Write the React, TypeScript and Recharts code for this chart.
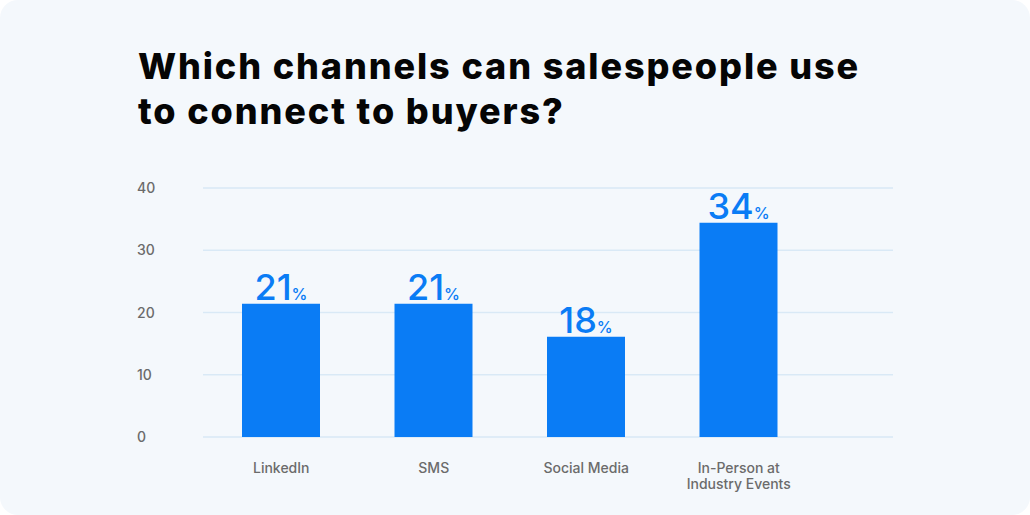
import React from "react";
import { BarChart, Bar, XAxis, YAxis, CartesianGrid, LabelList, Text } from "recharts";

const categories = ["LinkedIn", "SMS", "Social Media", "In-Person at Industry Events"];
const barValues = [21.4, 21.4, 16.1, 34.4];
const labelValues = ["21", "21", "18", "34"];
const yTicks = [0, 10, 20, 30, 40];
const title = ["Which channels can salespeople use", "to connect to buyers?"];

const data = categories.map((name, i) => ({ name, value: barValues[i], label: labelValues[i] }));

const BLUE = "#0a7cf5";
const GRAY = "#6b6b6b";

const YTick = (p: any) => (
  <text x={137} y={p.y} dy={5} textAnchor="start" fill={GRAY} fontSize={14} fontWeight={500} fontFamily="Inter, 'Open Sans', sans-serif">
    {p.payload.value}
  </text>
);

const XTick = (p: any) => (
  <Text x={p.x} y={p.y} width={125} textAnchor="middle" verticalAnchor="start" fill={GRAY} fontSize={14} fontWeight={500} fontFamily="Inter, 'Open Sans', sans-serif" lineHeight={16}>
    {p.payload.value}
  </Text>
);

const BarLabel = (p: any) => {
  const { x, y, width, index } = p;
  return (
    <text x={x + width / 2} y={y - 4} textAnchor="middle" fill={BLUE} fontFamily="Inter, 'Open Sans', sans-serif">
      <tspan fontSize={36} fontWeight={500}>{labelValues[index]}</tspan>
      <tspan fontSize={16} fontWeight={500}>%</tspan>
    </text>
  );
};

export default function App() {
  return (
    <div style={{ position: "absolute", left: 0, top: 0, width: 1030, height: 515, background: "#ffffff" }}>
      <div style={{ position: "absolute", left: 0, top: 0, width: 1030, height: 515, background: "#f4f8fc", borderRadius: 18 }} />
      <div
        style={{
          position: "absolute",
          left: 138,
          top: 44,
          fontFamily: "Inter, 'Open Sans', sans-serif",
          fontWeight: 800,
          fontSize: 36,
          lineHeight: "45px",
          color: "#050505",
          letterSpacing: 1.9,
        }}
      >
        {title.map((t, i) => (
          <div key={i} style={{ whiteSpace: "nowrap" }}>{t}</div>
        ))}
      </div>
      <div style={{ position: "absolute", left: 0, top: 0 }}>
        <BarChart width={1030} height={515} data={data} margin={{ top: 188, right: 137, bottom: 0, left: 137 }}>
          <CartesianGrid vertical={false} stroke="#d9e9f6" strokeWidth={1.5} />
          <XAxis dataKey="name" axisLine={false} tickLine={false} interval={0} tick={<XTick />} padding={{ left: 2, right: 78 }} tickMargin={20} height={78} />
          <YAxis domain={[0, 40]} ticks={yTicks} axisLine={false} tickLine={false} width={66} tick={<YTick />} />
          <Bar dataKey="value" fill={BLUE} barSize={78} isAnimationActive={false}>
            <LabelList dataKey="label" content={<BarLabel />} />
          </Bar>
        </BarChart>
      </div>
    </div>
  );
}
